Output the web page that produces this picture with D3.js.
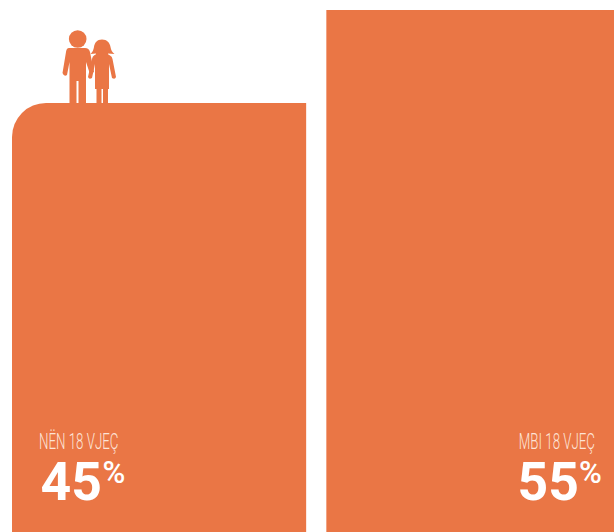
<!DOCTYPE html>
<html><head><meta charset="utf-8">
<script src="https://cdn.jsdelivr.net/npm/d3@7/dist/d3.min.js"></script>
<style>html,body{margin:0;padding:0;background:#fff}svg{display:block}</style>
</head><body><svg id="c" width="614" height="532"></svg>
<script>
const categories = ["NËN 18 VJEÇ", "MBI 18 VJEÇ"];
const values = [45, 55];
const W = 614, H = 532, ORANGE = "#EA7645";
const svg = d3.select("#c");
const x = d3.scaleBand().domain(categories).range([12, 620]).paddingInner(0.0658).paddingOuter(0);
const y = d3.scaleLinear().domain([0, 55]).range([521.5, 10]);
const R = 34;
svg.selectAll("path.bar").data(categories).join("path").attr("class", "bar").attr("fill", ORANGE)
  .attr("d", (c, i) => {
    const x0 = x(c), x1 = x0 + x.bandwidth(), t = y(values[i]);
    return i === 0
      ? `M${x0},${H}V${t + R}A${R},${R} 0 0 1 ${x0 + R},${t}H${x1 + 0.5}V${H}Z`
      : `M${x0},${H}V${t}H${x1}V${H}Z`;
  });
// people icon
const g = svg.append("g").attr("fill", ORANGE);
g.append("circle").attr("cx", 77.7).attr("cy", 39).attr("r", 8.8);
g.append("path").attr("d", "M69,48H85Q89,48 90,52L94,72L90,74L86,62V104H78.5V81H76.5V104H69.5V62L67,75Q64,77 62.5,73L66,52Q66.5,48 69,48Z");
g.append("path").attr("d", "M102,39.500C107,39.500 110,43 110.500,47C111,50 112,52 114.500,54L108,53.500C108,54.500 109,55 110,55.500Q112,56 112.500,59L116,77Q115,80 112,78L109,64V89H108V104H103V89H101.500V104H96.500V89H95V64L92,78Q89,80 88,77L92,59Q92.500,56 94,55.500C95,55 96,54.500 96,53.500L90.500,54C92.500,52 93.500,50 94,47C94.500,43 97,39.500 102,39.500Z");
// labels
const labelX = [39, 595], anchors = ["start", "end"], valueX = [40.5, 517.5], pctX = [102.5, 579];
svg.selectAll("text.cat").data(categories).join("text").attr("class", "cat")
  .attr("transform", (d, i) => `translate(${labelX[i]},449) scale(0.605,1)`)
  .attr("text-anchor", (d, i) => anchors[i])
  .attr("font-family", "Roboto,'Liberation Sans',sans-serif").attr("font-weight", 300)
  .attr("font-size", 22).attr("fill", "#FDE3D6").text(d => d);
svg.selectAll("text.val").data(values).join("text").attr("class", "val")
  .attr("x", (d, i) => valueX[i]).attr("y", 499.5)
  .attr("font-family", "Roboto,'Liberation Sans',sans-serif").attr("font-weight", 700)
  .attr("font-size", 53.5).attr("fill", "#fff").text(d => d);
svg.selectAll("text.pct").data(values).join("text").attr("class", "pct")
  .attr("x", (d, i) => pctX[i]).attr("y", 483)
  .attr("font-family", "Roboto,'Liberation Sans',sans-serif").attr("font-weight", 500)
  .attr("font-size", 31).attr("fill", "#fff").text("%");
</script></body></html>
